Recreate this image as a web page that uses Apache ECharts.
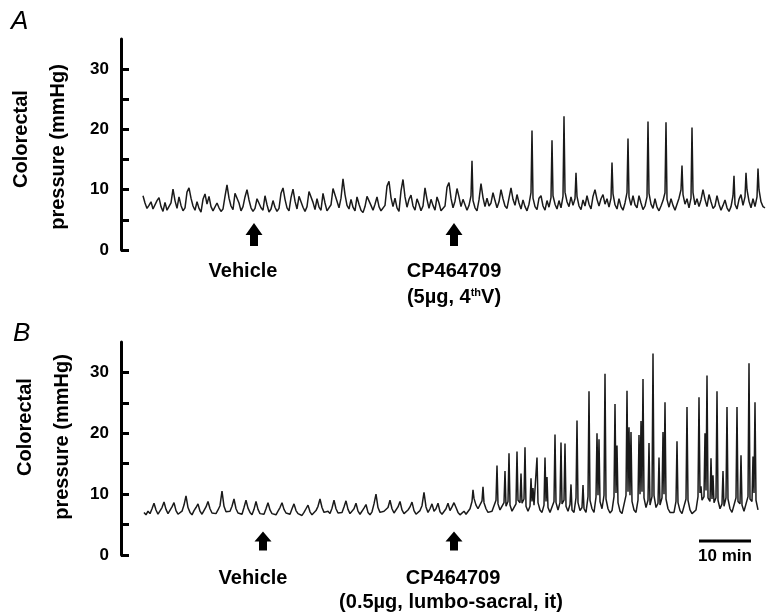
<!DOCTYPE html>
<html><head><meta charset="utf-8">
<script src="https://cdn.jsdelivr.net/npm/echarts@6/dist/echarts.min.js"></script>
<style>html,body{margin:0;padding:0;background:#fff}#c{width:773px;height:612px}</style>
</head><body><div id="c"></div>
<script>
// ---- data (time in minutes, pressure in mmHg) ----
const yTickValues = [0, 5, 10, 15, 20, 25, 30];
const yLabelValues = [0, 10, 20, 30];
const sampleStep = 0.4;          // minutes between baseline samples
const startA = 0.0;
const traceA = [
9.0,7.8,6.9,7.4,8.0,6.8,6.5,8.2,8.7,7.2,
6.4,7.9,6.6,6.3,7.8,10.1,8.2,6.9,8.8,7.4,
6.5,7.0,9.6,10.3,8.6,7.3,6.6,8.0,6.9,6.3,
8.4,9.3,7.6,8.9,7.2,6.5,6.2,7.8,7.0,6.4,
6.8,8.9,10.8,8.6,7.3,6.7,9.4,9.6,7.8,6.5,
7.2,8.8,10.0,8.3,7.0,6.4,6.9,8.5,8.7,7.0,
6.6,9.0,7.5,6.3,6.8,8.2,7.1,6.4,6.9,9.4,
10.3,8.4,7.0,6.5,8.7,10.1,8.1,6.8,8.9,8.6,
7.1,6.4,7.2,9.7,9.9,7.9,6.7,8.5,7.1,6.6,
9.4,7.8,6.5,6.3,7.5,10.2,10.4,8.1,7.0,8.6,
11.8,9.2,7.4,6.8,8.4,7.1,6.5,8.8,7.6,6.6,
6.2,7.2,8.9,9.2,7.4,6.6,7.6,8.8,7.2,6.5,
6.3,7.4,10.6,11.4,8.7,7.2,8.6,7.0,6.4,9.8,
11.7,8.8,7.1,8.4,9.1,7.3,6.6,8.5,7.6,6.5,
7.3,10.3,8.4,6.9,8.4,7.4,6.6,8.8,7.8,6.5,
6.2,7.3,10.4,11.2,8.6,7.0,8.1,10.2,8.8,7.2,
8.4,7.5,6.6,7.4,9.0,8.2,7.0,6.5,8.3,11.0,
8.7,7.2,8.6,7.3,7.8,9.5,8.2,7.0,8.0,10.0,
8.5,7.3,6.9,8.6,10.3,8.4,7.4,9.2,7.8,6.8,
8.3,7.2,6.5,7.6,9.5,8.6,7.2,6.7,8.6,9.0,
7.3,6.6,8.2,7.1,8.7,9.0,7.6,6.8,8.2,7.0,
8.9,9.6,8.0,7.2,8.8,7.4,8.5,8.9,7.3,6.7,
8.3,7.3,9.0,7.6,6.8,8.9,10.0,8.4,7.3,8.5,
9.2,7.6,8.5,7.1,8.6,9.3,7.5,6.8,8.5,7.2,
6.6,7.8,9.5,8.8,7.4,9.0,7.5,7.0,9.0,7.8,
6.7,7.3,8.8,9.4,7.6,6.9,8.5,7.1,6.5,7.3,
8.2,9.5,8.4,7.1,8.5,7.4,6.6,6.9,8.6,10.0,
9.2,7.6,8.5,7.0,8.6,9.5,7.5,8.5,7.2,8.3,
10.0,8.4,7.2,9.2,8.0,6.9,7.3,9.0,7.6,6.6,
7.4,8.3,7.0,6.4,7.2,9.0,7.6,6.8,8.4,9.2,
7.4,8.8,10.0,8.1,7.0,8.5,7.2,8.8,10.0,8.0,
7.2,7.0
];
const spikesA = [
[65.8,14.8],[77.8,19.8],[81.8,18.2],[84.2,22.2],[86.6,12.8],[93.8,14.5],[97.0,18.5],
[101.0,21.3],[104.6,21.2],[107.8,14.0],[109.8,20.3],[118.2,12.3],[120.6,12.8],[123.0,13.5]
];
const startB = 0.2;
const traceB = [
7.0,6.6,7.2,6.8,7.6,8.5,7.4,6.7,7.0,7.8,
8.7,7.5,6.8,7.1,7.9,8.6,7.3,6.7,6.9,7.2,
8.2,9.7,7.8,7.0,6.6,7.3,7.8,8.4,7.2,6.7,
7.0,7.9,8.8,7.6,6.9,7.2,6.8,7.4,8.1,10.5,
8.0,7.1,6.8,7.2,8.0,9.2,7.6,6.9,7.1,6.7,
7.8,9.0,7.7,7.0,6.6,7.5,8.8,7.5,6.8,7.1,
6.7,7.6,8.6,7.4,6.8,7.0,6.6,7.2,7.8,8.6,
7.5,6.9,7.2,6.7,7.6,8.4,7.3,6.8,7.0,6.5,
7.0,7.6,8.2,7.1,6.6,6.9,7.3,8.0,9.2,7.8,
7.0,6.7,7.2,6.8,7.7,9.0,7.6,6.9,7.2,7.0,
7.9,8.9,7.5,6.8,7.1,7.6,8.5,7.2,6.7,7.0,
7.7,8.3,7.0,6.6,7.1,8.4,10.0,7.8,7.0,6.7,
7.2,6.9,7.8,9.0,7.6,6.9,7.2,7.9,8.8,7.4,
6.8,7.0,7.4,7.9,8.7,7.3,6.7,7.0,7.3,8.1,
10.3,7.9,7.0,7.6,8.4,7.2,7.6,8.5,7.1,6.7,
6.9,7.6,8.5,7.3,7.9,8.6,7.8,7.0,6.6,6.9,
7.2,6.7,7.0,7.6,8.8,9.3,8.2,7.6,7.9,8.9,
8.6,7.6,7.0,6.8,7.2,7.5,9.0,8.4,7.4,7.6,
8.6,8.0,8.8,8.2,7.2,6.9,8.4,9.0,8.6,8.5,
9.2,8.0,7.2,8.0,8.8,8.2,8.4,8.6,7.4,7.0,
8.2,8.8,7.8,7.0,7.2,8.8,8.6,7.4,8.6,8.4,
9.0,8.0,7.2,8.3,7.4,7.0,9.4,8.6,7.3,7.8,
7.6,7.0,9.6,9.0,7.6,7.0,9.5,9.8,8.8,7.6,
9.8,9.2,7.6,6.9,7.3,9.6,10.2,8.6,7.2,6.8,
7.0,9.8,10.4,9.8,8.8,7.4,7.0,9.0,10.0,10.4,
9.4,7.8,9.0,8.2,9.6,9.8,7.8,8.5,8.2,9.4,
10.0,9.2,7.6,7.0,6.7,7.0,8.8,8.6,7.3,6.8,
7.0,9.2,9.0,7.4,6.8,7.0,7.4,9.6,10.2,9.0,
9.6,10.6,9.4,8.8,9.2,8.6,9.4,9.0,7.6,8.4,
8.0,9.4,9.2,7.6,7.0,7.2,9.4,8.8,8.4,8.2,
7.2,7.0,9.6,9.2,8.8,10.2,9.0,7.4
];
const spikesB = [
[66.0,10.7],[68.0,11.2],[70.8,14.7],[72.4,13.8],[73.2,16.7],[74.8,17.0],[75.6,13.4],
[76.4,17.7],[77.6,12.6],[78.0,11.0],[78.8,16.0],[80.4,16.0],[80.8,12.8],[82.4,19.8],
[83.6,18.5],[84.4,18.3],[85.6,11.6],[86.8,22.1],[88.0,11.5],[89.2,26.9],[90.8,20.0],
[91.2,19.0],[92.4,29.8],[94.4,24.8],[94.8,18.0],[96.8,27.0],[97.2,21.0],[97.6,20.2],
[99.2,19.7],[99.6,22.0],[100.0,28.9],[101.2,18.4],[102.0,33.1],[103.2,16.0],[104.0,20.2],
[104.4,25.1],[106.8,18.7],[108.8,24.3],[111.2,25.9],[111.6,11.3],[112.4,20.0],[112.8,29.5],
[113.6,15.9],[114.0,13.1],[114.8,26.9],[116.0,13.8],[116.8,24.3],[118.8,24.3],[119.6,16.4],
[121.2,31.5],[122.0,16.2],[122.4,25.1]
];
// injection times (minutes) and labels
const injectionsA = [22.2, 62.2];
const injectionsB = [24.0, 62.2];
const labelsA = ['Vehicle', 'CP464709', '(5µg, 4{sup|th}V)'];
const labelsB = ['Vehicle', 'CP464709', '(0.5µg, lumbo-sacral, it)'];
const yTitle = ['Colorectal', 'pressure (mmHg)'];
const scaleLabel = '10 min';

// ---- build ----
function buildSeriesData(start, base, spikes) {
  const pts = base.map((v, i) => [Math.round((start + i * sampleStep) * 100) / 100, v]);
  spikes.forEach(s => pts.push([s[0], s[1]]));
  pts.sort((a, b) => a[0] - b[0]);
  return pts;
}
const FONT = 'Arial, "Liberation Sans", sans-serif';
const arrowPath = 'path://M8.5,0 L17,12 L12.5,12 L12.5,23 L4.5,23 L4.5,12 L0,12 Z';

function yAxisCfg(gi) {
  return {
    type: 'value', gridIndex: gi, min: 0, max: 35, interval: 5,
    axisLine: { show: true, onZero: false, lineStyle: { color: '#000', width: 3 } },
    axisTick: { show: true, inside: true, length: 8, customValues: yTickValues, lineStyle: { color: '#000', width: 3 } },
    axisLabel: { show: true, customValues: yLabelValues, margin: 12, color: '#000', fontWeight: 'bold',
      fontSize: 17, fontFamily: FONT, padding: [11, 0, 0, 0] },
    splitLine: { show: false }
  };
}
function xAxisCfg(gi) {
  return { type: 'value', gridIndex: gi, min: -4.4, max: 124.4, show: false,
    axisLine: { onZero: false } };
}
function traceSeries(gi, data, inj, yArrow, hArrow) {
  return {
    type: 'line', xAxisIndex: gi, yAxisIndex: gi, data: data, showSymbol: false, symbol: 'none',
    sampling: null, lineStyle: { color: '#1a1a1a', width: 1.5 }, silent: true,
    markPoint: {
      symbol: arrowPath, symbolSize: [17, hArrow], silent: true,
      itemStyle: { color: '#000' }, label: { show: false },
      data: inj.map(t => ({ coord: [t, yArrow] }))
    }
  };
}
function txt(x, y, text, size, extra) {
  return Object.assign({
    type: 'text', x: x, y: y,
    style: { text: text, fill: '#000', font: 'bold ' + size + 'px ' + FONT,
      align: 'center', verticalAlign: 'middle', textAlign: 'center', textVerticalAlign: 'middle' }
  }, extra || {});
}

const chart = echarts.init(document.getElementById('c'), null, { renderer: 'canvas' });
chart.setOption({
  animation: false,
  backgroundColor: '#fff',
  grid: [
    { left: 121, top: 39, width: 644, height: 211 },
    { left: 121, top: 342, width: 644, height: 213 }
  ],
  xAxis: [xAxisCfg(0), xAxisCfg(1)],
  yAxis: [yAxisCfg(0), yAxisCfg(1)],
  series: [
    traceSeries(0, buildSeriesData(startA, traceA, spikesA), injectionsA, 2.57, 23),
    traceSeries(1, buildSeriesData(startB, traceB, spikesB), injectionsB, 2.3, 19)
  ],
  graphic: [
    { type: 'text', x: 11, y: 22, style: { text: 'A', fill: '#000', font: 'italic 26px ' + FONT, align: 'left', verticalAlign: 'middle' } },
    { type: 'text', x: 13, y: 334, style: { text: 'B', fill: '#000', font: 'italic 26px ' + FONT, align: 'left', verticalAlign: 'middle' } },
    txt(21, 139, yTitle[0], 20, { rotation: Math.PI / 2 }),
    txt(58, 147, yTitle[1], 20, { rotation: Math.PI / 2 }),
    txt(25, 427, yTitle[0], 20, { rotation: Math.PI / 2 }),
    txt(62, 437, yTitle[1], 20, { rotation: Math.PI / 2 }),
    txt(243, 271, labelsA[0], 20),
    txt(454, 271, labelsA[1], 20),
    { type: 'text', x: 454, y: 297, style: { text: labelsA[2], fill: '#000', font: 'bold 20px ' + FONT,
        align: 'center', verticalAlign: 'middle',
        rich: { sup: { fontSize: 11, fontWeight: 'bold', fontFamily: FONT, fill: '#000', verticalAlign: 'top', padding: [0, 0, 8, 0] } } } },
    txt(253, 578, labelsB[0], 20),
    txt(453, 578, labelsB[1], 20),
    txt(451, 602, labelsB[2], 20),
    { type: 'line', shape: { x1: 699, y1: 541, x2: 751, y2: 541 }, style: { stroke: '#000', lineWidth: 3 } },
    txt(725, 556, scaleLabel, 17)
  ]
});
</script></body></html>
